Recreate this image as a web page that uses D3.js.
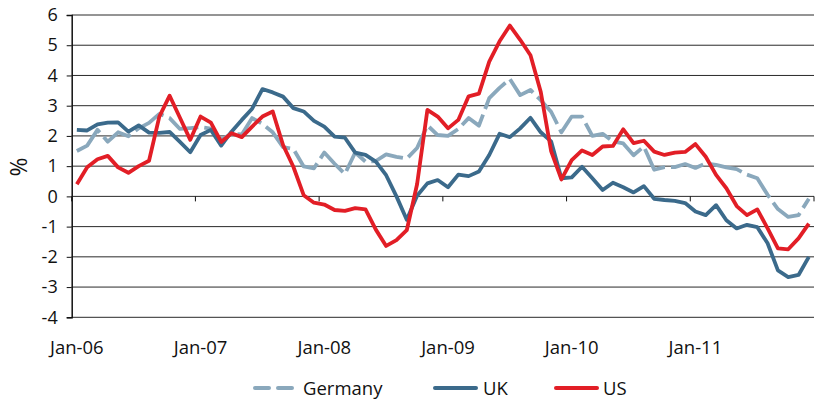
<!DOCTYPE html>
<html>
<head>
<meta charset="utf-8">
<script src="https://cdn.jsdelivr.net/npm/d3@7"></script>
<style>
  body { margin: 0; background: #fff; }
  svg text { font-family: "Open Sans", "Noto Sans", sans-serif; fill: #111; }
</style>
</head>
<body>
<svg id="chart" width="821" height="401"></svg>
<script>
// months Jan-06 .. Dec-11
const monthNames = ["Jan","Feb","Mar","Apr","May","Jun","Jul","Aug","Sep","Oct","Nov","Dec"];
const years = ["06","07","08","09","10","11"];
const months = years.flatMap(y => monthNames.map(m => `${m}-${y}`));
const tickLabels = ["Jan-06","Jan-07","Jan-08","Jan-09","Jan-10","Jan-11"];
const yTicks = [-4,-3,-2,-1,0,1,2,3,4,5,6];

const germany = [1.5,1.68,2.2,1.81,2.12,1.99,2.25,2.43,2.73,2.59,2.23,2.26,
  2.29,2.24,1.87,2.08,2.05,2.59,2.4,2.12,1.63,1.57,0.99,0.93,
  1.45,1.08,0.74,1.45,1.15,1.17,1.39,1.31,1.25,1.6,2.35,2.03,
  2.0,2.23,2.59,2.34,3.25,3.59,3.88,3.35,3.52,3.18,2.8,2.12,
  2.64,2.64,2.0,2.07,1.82,1.75,1.36,1.65,0.88,0.97,0.97,1.07,
  0.94,1.09,1.04,0.96,0.9,0.72,0.6,0.05,-0.42,-0.68,-0.62,-0.08];

const uk = [2.2,2.18,2.38,2.44,2.45,2.14,2.35,2.11,2.1,2.13,1.8,1.46,
  2.03,2.2,1.68,2.14,2.53,2.9,3.55,3.44,3.3,2.92,2.81,2.5,
  2.31,1.98,1.94,1.45,1.37,1.15,0.7,0.0,-0.77,0.02,0.43,0.54,
  0.3,0.72,0.67,0.82,1.37,2.07,1.96,2.25,2.6,2.12,1.82,0.6,
  0.63,0.98,0.6,0.21,0.45,0.3,0.13,0.34,-0.08,-0.12,-0.15,-0.22,
  -0.5,-0.62,-0.29,-0.79,-1.06,-0.94,-1.02,-1.55,-2.45,-2.67,-2.6,-2.0];

const us = [0.4,0.96,1.23,1.34,0.96,0.78,1.0,1.18,2.64,3.33,2.6,1.87,
  2.64,2.44,1.8,2.09,1.96,2.31,2.64,2.81,1.7,0.98,0.04,-0.21,
  -0.27,-0.45,-0.48,-0.39,-0.43,-1.1,-1.64,-1.45,-1.12,0.4,2.86,2.64,
  2.25,2.53,3.31,3.4,4.46,5.13,5.65,5.18,4.67,3.45,1.5,0.56,
  1.2,1.52,1.37,1.65,1.67,2.22,1.76,1.84,1.48,1.37,1.45,1.47,
  1.73,1.31,0.71,0.27,-0.32,-0.62,-0.43,-1.06,-1.72,-1.75,-1.39,-0.9];

const series = [
  { name: "Germany", values: germany, color: "#8aa8bc", dash: "34,6" },
  { name: "UK", values: uk, color: "#3b6a8b", dash: null },
  { name: "US", values: us, color: "#e21e26", dash: null }
];

const svg = d3.select("#chart");
const plot = { left: 71.7, right: 814, top: 15, bottom: 317.3 };

const x = d3.scaleBand().domain(d3.range(months.length)).range([plot.left, plot.right]).padding(0);
const y = d3.scaleLinear().domain([-4, 6]).range([plot.bottom, plot.top]);
const cx = i => x(i) + x.bandwidth() / 2;

// horizontal gridlines
svg.append("g")
  .selectAll("line")
  .data(yTicks)
  .enter().append("line")
  .attr("x1", plot.left).attr("x2", plot.right)
  .attr("y1", d => y(d)).attr("y2", d => y(d))
  .attr("stroke", "#2a2a2a")
  .attr("stroke-width", 1);

// y axis (plain hyphen for negatives, like the original)
const yAxis = svg.append("g")
  .attr("transform", `translate(${plot.left},0)`)
  .call(d3.axisLeft(y).tickValues(yTicks).tickSize(5).tickPadding(9).tickFormat(d => String(d)));
yAxis.select(".domain").attr("stroke", "#111").attr("stroke-width", 1.5);
yAxis.selectAll(".tick line").attr("stroke", "#111");
yAxis.selectAll("text").style("font-size", "18px").attr("fill", "#111");

// x axis along zero, ticks at year boundaries
const xTickIdx = d3.range(0, months.length + 1, 12);
svg.append("g")
  .selectAll("line")
  .data(xTickIdx)
  .enter().append("line")
  .attr("x1", d => d < months.length ? x(d) : plot.right)
  .attr("x2", d => d < months.length ? x(d) : plot.right)
  .attr("y1", y(0)).attr("y2", y(0) + 5)
  .attr("stroke", "#111");

svg.append("g")
  .selectAll("text")
  .data(tickLabels)
  .enter().append("text")
  .attr("x", d => cx(months.indexOf(d)))
  .attr("y", 354)
  .attr("text-anchor", "middle")
  .style("font-size", "18.5px")
  .text(d => d);

// y label
svg.append("text")
  .attr("transform", "translate(27,167) rotate(-90)")
  .attr("text-anchor", "middle")
  .style("font-size", "23px")
  .text("%");

// lines
const line = d3.line().x((d, i) => cx(i)).y(d => y(d));
series.forEach(s => {
  svg.append("path")
    .datum(s.values)
    .attr("fill", "none")
    .attr("stroke", s.color)
    .attr("stroke-width", 3.8)
    .attr("stroke-linejoin", "round")
    .attr("stroke-dasharray", s.dash)
    .attr("d", line);
});

// legend
const legend = [
  { s: series[0], x1: 255, x2: 293, tx: 303 },
  { s: series[1], x1: 435, x2: 476, tx: 483 },
  { s: series[2], x1: 556, x2: 597, tx: 603 }
];
const ly = 388;
legend.forEach(l => {
  svg.append("line")
    .attr("x1", l.x1).attr("x2", l.x2)
    .attr("y1", ly).attr("y2", ly)
    .attr("stroke", l.s.color)
    .attr("stroke-width", 4)
    .attr("stroke-linecap", "round")
    .attr("stroke-dasharray", l.s.dash ? "14,9" : null);
  svg.append("text")
    .attr("x", l.tx).attr("y", ly + 6.5)
    .style("font-size", "18.5px")
    .text(l.s.name);
});
</script>
</body>
</html>
